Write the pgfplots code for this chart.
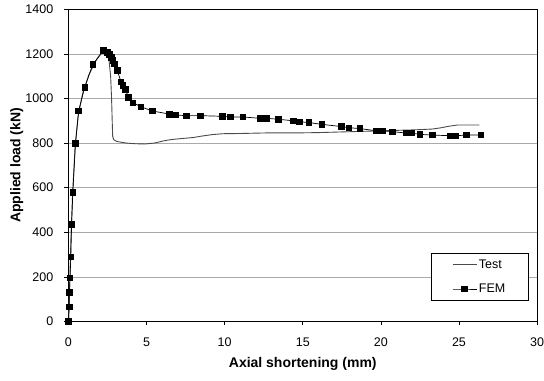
\documentclass[border=0pt]{standalone}
\usepackage{pgfplots}
\pgfplotsset{compat=1.18}
\usepackage{fontspec}
\setmainfont{Liberation Sans}
\definecolor{testgray}{RGB}{75,75,75}
\definecolor{gridgray}{RGB}{170,170,170}
\begin{document}
\begin{tikzpicture}
\begin{axis}[
  scale only axis,
  width=468.8bp, height=312.3bp,
  xmin=0, xmax=30, ymin=0, ymax=1400,
  xtick={0,5,...,30}, ytick={0,200,...,1400},
  tick align=outside,
  major tick length=4bp,
  xtick pos=bottom, ytick pos=left,
  ymajorgrids,
  major grid style={gridgray, line width=0.6pt},
  axis line style={black, line width=0.8pt},
  tick style={black, line width=0.6pt},
  /pgf/number format/assume math mode=true,
  /pgf/number format/1000 sep={},
  tick label style={font=\fontsize{12.5bp}{14bp}\selectfont},
  xticklabel style={anchor=north, inner sep=0pt, yshift=-12bp},
  yticklabel style={anchor=east, inner sep=0pt, xshift=-11bp},
  xlabel={Axial shortening (mm)},
  ylabel={Applied load (kN)},
  every axis x label/.style={at={(rel axis cs:0.5,0)}, yshift=-42bp, anchor=center, font=\bfseries\fontsize{14bp}{16bp}\selectfont},
  every axis y label/.style={at={(rel axis cs:0,0.5)}, xshift=-51.8bp, rotate=90, anchor=center, font=\bfseries\fontsize{14bp}{16bp}\selectfont},
  legend style={at={(0.982,0.219)}, anchor=north east, draw=black, line width=0.6pt,
    font=\fontsize{12.5bp}{14bp}\selectfont, inner xsep=21bp, inner ysep=4.5bp, row sep=10bp},
  legend cell align=left,
  legend image code/.code={\draw[mark repeat=2,mark phase=2,#1] plot coordinates {(0bp,0bp) (12bp,0bp) (24bp,0bp)};},
]
\addplot[testgray, line width=0.9pt, no marks] coordinates {
(0,0) (0.05,100) (0.1,220) (0.17,400) (0.27,580) (0.42,780) (0.62,920) (0.9,1020)
(1.3,1105) (1.8,1175) (2.1,1205) (2.3,1215) (2.45,1205) (2.6,1170) (2.7,1100)
(2.76,1000) (2.8,900) (2.83,830) (2.9,815) (3.1,807) (3.7,800) (4.3,797) (4.9,796)
(5.5,800) (6.1,810) (6.6,816) (7.2,820) (8.0,825) (8.5,831) (9.2,838) (9.9,842)
(11,843) (12.3,845) (13,846) (14,846) (15,846) (16,847) (17,849) (18,851) (19,853)
(20,855) (21,857) (22,859) (22.7,861) (23.3,863) (23.8,868) (24.4,876) (24.9,881) (26.3,881)
};
\addlegendentry{Test}
\addplot[black, line width=0.7pt, mark=square*, mark size=2.8bp, mark options={solid, fill=black}] coordinates {
(0,0) (0.05,65) (0.06,130) (0.1,195) (0.15,290) (0.2,435) (0.28,580) (0.45,800)
(0.65,945) (1.04,1050) (1.55,1152) (2.25,1215) (2.5,1207) (2.62,1198) (2.73,1185)
(2.83,1170) (2.92,1155) (3.13,1125) (3.36,1075) (3.49,1058) (3.64,1040) (3.85,1005)
(4.13,981) (4.64,963) (5.36,944) (6.47,930) (6.87,926) (7.53,923) (8.43,923)
(9.87,920) (10.35,917) (11.17,917) (12.28,911) (12.7,911) (13.42,907) (14.38,900)
(14.77,896) (15.39,892) (16.22,884) (17.48,874) (17.95,869) (18.65,865) (19.72,855)
(20.14,855) (20.74,851) (21.64,845) (21.96,845) (22.49,839) (23.28,836) (24.41,833)
(24.8,833) (25.48,836) (26.39,836)
};
\addlegendentry{FEM}
\end{axis}
\path ([xshift=-68.5bp,yshift=-58.7bp]current axis.south west) rectangle ([xshift=6.7bp,yshift=9.3bp]current axis.north east);
\end{tikzpicture}
\end{document}
